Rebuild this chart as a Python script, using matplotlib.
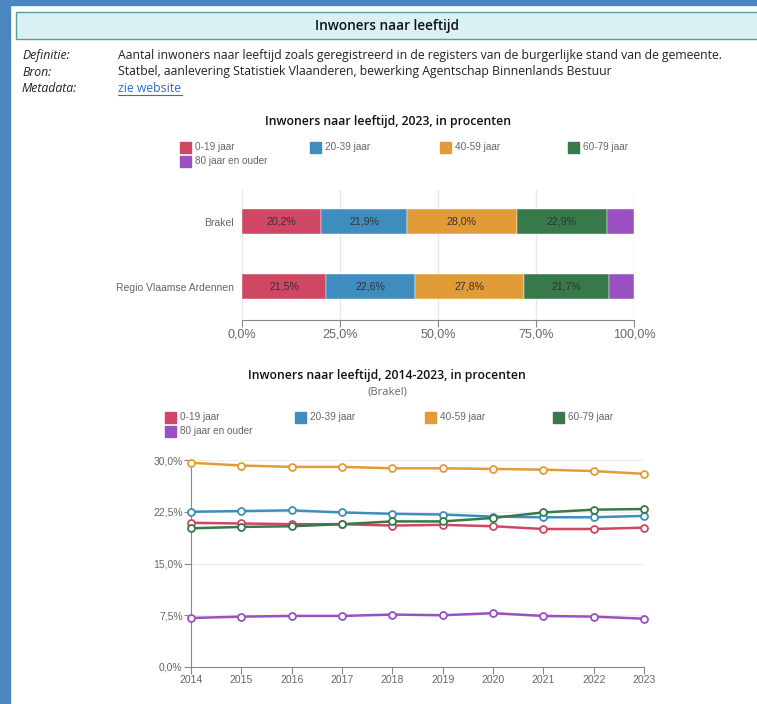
import matplotlib
matplotlib.use("Agg")
import matplotlib.pyplot as plt
from matplotlib.patches import Rectangle
from matplotlib.ticker import FuncFormatter

W, H = 757, 704

categories = ["0-19 jaar", "20-39 jaar", "40-59 jaar", "60-79 jaar", "80 jaar en ouder"]
colors = ["#cf4762", "#3f8dbf", "#e19c37", "#37794a", "#9b50c1"]

regions = ["Brakel", "Regio Vlaamse Ardennen"]
brakel_2023 = [20.2, 21.9, 28.0, 22.9, 7.0]
regio_2023 = [21.5, 22.6, 27.8, 21.7, 6.4]

years = [2014, 2015, 2016, 2017, 2018, 2019, 2020, 2021, 2022, 2023]
s_0_19 = [20.9, 20.8, 20.7, 20.7, 20.5, 20.6, 20.4, 20.0, 20.0, 20.2]
s_20_39 = [22.5, 22.6, 22.7, 22.4, 22.2, 22.1, 21.8, 21.7, 21.7, 21.9]
s_40_59 = [29.6, 29.2, 29.0, 29.0, 28.8, 28.8, 28.7, 28.6, 28.4, 28.0]
s_60_79 = [20.1, 20.3, 20.4, 20.7, 21.1, 21.1, 21.6, 22.4, 22.8, 22.9]
s_80 = [7.1, 7.3, 7.4, 7.4, 7.6, 7.5, 7.8, 7.4, 7.3, 7.0]
series = [s_0_19, s_20_39, s_40_59, s_60_79, s_80]

bar_ticks = [0, 25, 50, 75, 100]
line_yticks = [0, 7.5, 15, 22.5, 30]

fig = plt.figure(figsize=(W / 100, H / 100), dpi=100)
fig.patch.set_facecolor("white")

def fx(x):
    return x / W

def fy(y):
    return 1 - y / H

TITLE_FONT = ["Open Sans", "DejaVu Sans"]
LABEL_FONT = ["Liberation Sans", "DejaVu Sans"]
GRAY = "#666666"

# page frame
fig.add_artist(Rectangle((0, 0), fx(10), 1, transform=fig.transFigure, color="#4a87c0", zorder=0))
fig.add_artist(Rectangle((0, fy(5)), 1, fy(0) - fy(5), transform=fig.transFigure, color="#4a87c0", zorder=0))
fig.add_artist(Rectangle((fx(16), fy(39)), fx(760) - fx(16), fy(12) - fy(39), transform=fig.transFigure,
                         facecolor="#daf1f4", edgecolor="#5a9c9e", lw=1.0, zorder=1))
fig.text(fx(387), fy(26), "Inwoners naar leeftijd", ha="center", va="center", fontsize=9.8,
         family=TITLE_FONT, weight="semibold", color="#111111")

meta_labels = ["Definitie:", "Bron:", "Metadata:"]
meta_values = ["Aantal inwoners naar leeftijd zoals geregistreerd in de registers van de burgerlijke stand van de gemeente.",
               "Statbel, aanlevering Statistiek Vlaanderen, bewerking Agentschap Binnenlands Bestuur",
               "zie website"]
for i, (lab, val) in enumerate(zip(meta_labels, meta_values)):
    y = 56 + i * 16
    fig.text(fx(22), fy(y), lab, ha="left", va="center", fontsize=8.8, family=TITLE_FONT, style="italic",
             color="#222222")
    if val == "zie website":
        fig.text(fx(118), fy(y), val, ha="left", va="center", fontsize=8.8, family=TITLE_FONT,
                 color="#2a6fc9")
        fig.add_artist(plt.Line2D([fx(118), fx(182)], [fy(y + 7), fy(y + 7)], transform=fig.transFigure,
                                  color="#2a6fc9", lw=0.8))
    else:
        fig.text(fx(118), fy(y), val, ha="left", va="center", fontsize=8.8, family=TITLE_FONT, color="#222222")


def legend(y0, xs):
    for i, (cat, col) in enumerate(zip(categories, colors)):
        row = i // 4
        x = xs[i % 4]
        y = y0 + row * 14
        fig.add_artist(Rectangle((fx(x), fy(y + 5.5)), fx(11), fy(0) - fy(11), transform=fig.transFigure,
                                 color=col))
        fig.text(fx(x + 15), fy(y), cat, ha="left", va="center", fontsize=7.2, family=LABEL_FONT, color=GRAY)

# ---- bar chart ----
fig.text(fx(388), fy(121), "Inwoners naar leeftijd, 2023, in procenten", ha="center", va="center",
         fontsize=8.8, family=TITLE_FONT, weight="semibold", color="#111111")
legend(147, [180, 310, 440, 568])

axb = fig.add_axes([fx(242), fy(320), fx(634) - fx(242), fy(190) - fy(320)])
ypos = [1, 0]
for ri, vals in enumerate([brakel_2023, regio_2023]):
    left = 0
    for ci, v in enumerate(vals):
        axb.barh(ypos[ri], v, left=left, height=0.385, color=colors[ci], edgecolor="white", lw=0.3, zorder=2)
        if ci < 4:
            axb.text(left + v / 2, ypos[ri], f"{v:.1f}%".replace(".", ","), ha="center", va="center",
                     fontsize=7.7, family=LABEL_FONT, color="#333333", zorder=3)
        left += v
axb.set_xlim(0, 100)
axb.set_ylim(-0.515, 1.485)
axb.set_xticks(bar_ticks)
axb.xaxis.set_major_formatter(FuncFormatter(lambda v, p: f"{v:.1f}%".replace(".", ",")))
axb.set_yticks(ypos)
axb.set_yticklabels(regions)
axb.grid(axis="x", color="#e8e8e8", lw=1, zorder=0)
for s in ["top", "right", "left"]:
    axb.spines[s].set_visible(False)
axb.spines["bottom"].set_color("#888888")
axb.tick_params(axis="x", colors="#888888", length=5, labelcolor=GRAY, labelsize=9, pad=1)
axb.tick_params(axis="y", length=0, labelcolor=GRAY, labelsize=7.5, pad=6)
for lab in axb.get_xticklabels() + axb.get_yticklabels():
    lab.set_family(LABEL_FONT)

# ---- line chart ----
fig.text(fx(387), fy(376), "Inwoners naar leeftijd, 2014-2023, in procenten", ha="center", va="center",
         fontsize=8.8, family=TITLE_FONT, weight="semibold", color="#111111")
fig.text(fx(387), fy(392), "(Brakel)", ha="center", va="center", fontsize=8, family=TITLE_FONT, color=GRAY)
legend(417, [165, 295, 425, 553])

axl = fig.add_axes([fx(191), fy(667), fx(644) - fx(191), fy(460) - fy(667)])
for vals, col in zip(series, colors):
    axl.plot(years, vals, color=col, lw=1.8, marker="o", markersize=5, markerfacecolor="white",
             markeredgecolor=col, markeredgewidth=1.3, clip_on=False, zorder=3)
axl.set_xlim(years[0], years[-1])
axl.set_ylim(0, 30)
axl.set_xticks(years)
axl.set_yticks(line_yticks)
axl.yaxis.set_major_formatter(FuncFormatter(lambda v, p: f"{v:.1f}%".replace(".", ",")))
axl.grid(axis="y", color="#eeeeee", lw=1, zorder=0)
for s in ["top", "right"]:
    axl.spines[s].set_visible(False)
for s in ["left", "bottom"]:
    axl.spines[s].set_color("#888888")
axl.tick_params(colors="#888888", length=5, labelcolor=GRAY, labelsize=7.5, pad=1)
for lab in axl.get_xticklabels() + axl.get_yticklabels():
    lab.set_family(LABEL_FONT)

fig.savefig("out.png", dpi=100, facecolor="white")
